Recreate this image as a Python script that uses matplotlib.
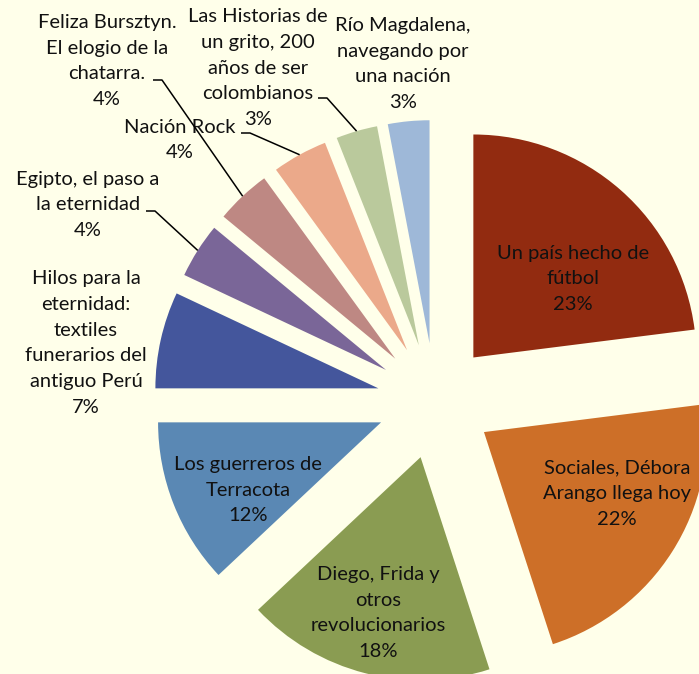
import matplotlib
matplotlib.use("Agg")
import matplotlib.pyplot as plt
import numpy as np

labels = ["Un país hecho de\nfútbol", "Sociales, Débora\nArango llega hoy",
          "Diego, Frida y\notros\nrevolucionarios", "Los guerreros de\nTerracota",
          "Hilos para la\neternidad:\ntextiles\nfunerarios del\nantiguo Perú",
          "Egipto, el paso a\nla eternidad", "Feliza Bursztyn.\nEl elogio de la\nchatarra.",
          "Nación Rock", "Las Historias de\nun grito, 200\naños de ser\ncolombianos",
          "Río Magdalena,\nnavegando por\nuna nación"]
values = [23, 22, 18, 12, 7, 4, 4, 4, 3, 3]
colors = ["#922B10", "#CD6F28", "#8A9C52", "#5A88B4", "#44569C",
          "#7A6698", "#BE8883", "#EBA98A", "#BAC99C", "#9EB8D8"]

BG = "#FFFFEA"
W, H = 699, 674
fig = plt.figure(figsize=(W / 100, H / 100), dpi=100, facecolor=BG)
ax = fig.add_axes([0, 0, 1, 1])
ax.set_facecolor(BG)

cx, cy = 435, H - 401
R = 223
EXP = 58

wedges, _ = ax.pie(values, colors=colors, startangle=90, counterclock=False,
                   center=(cx, cy), radius=R, explode=[EXP] * len(values),
                   wedgeprops=dict(linewidth=0), frame=True)
ax.set_xlim(0, W)
ax.set_ylim(0, H)
ax.set_aspect("equal")
ax.axis("off")

FONT = dict(family=["Lato", "DejaVu Sans"], fontsize=14.5, color="#111111",
            ha="center", va="center", linespacing=1.62)

# label block centers (pixel coords, y down)
label_pos = [(573, 279), (617, 494), (378, 613), (248, 490), (86, 343),
             (88, 205), (107, 61), (180, 140), (258, 68), (403, 64)]
# leader line start points (None = no leader)
leader_start = [None, None, None, None, None,
                (146, 211), (153, 80), (241, 133), (318, 98), None]

for i, (lab, v) in enumerate(zip(labels, values)):
    px, py = label_pos[i]
    ax.text(px, H - py, f"{lab}\n{v}%", **FONT)
    if leader_start[i] is not None:
        w = wedges[i]
        tm = np.deg2rad((w.theta1 + w.theta2) / 2)
        ex = w.center[0] + R * np.cos(tm)
        ey = w.center[1] + R * np.sin(tm)
        sx, sy = leader_start[i]
        ax.plot([sx, sx + 9, ex], [H - sy, H - sy, ey], color="black", lw=1.1,
                solid_capstyle="butt", zorder=5)

fig.savefig("out.png", dpi=100, facecolor=BG)
